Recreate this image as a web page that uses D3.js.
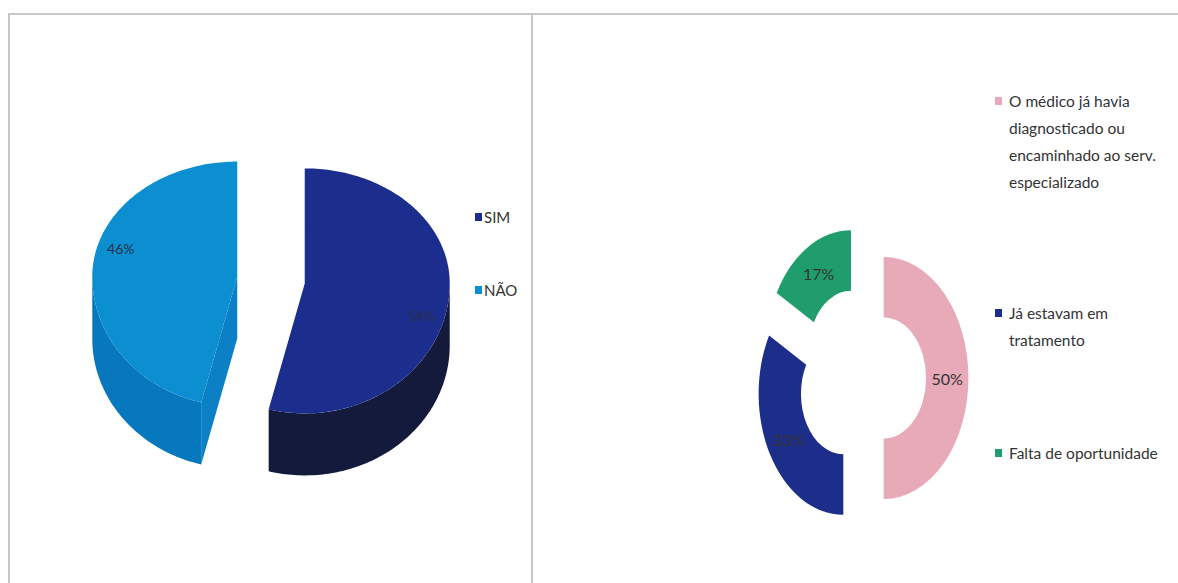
<!DOCTYPE html>
<html><head><meta charset="utf-8">
<script src="https://cdn.jsdelivr.net/npm/d3@7"></script>
<style>
html,body{margin:0;padding:0;background:#fff;}
svg{display:block;font-family:Lato,"Open Sans",sans-serif;}
</style>
</head><body>
<svg id="chart" width="1178" height="583"></svg>
<script>
// ---- data ----
const pieCategories = ["SIM", "NÃO"];
const pieValues = [54, 46];
const pieLabels = ["54%", "46%"];

const donutCategories = [
  ["O médico já havia", "diagnosticado ou", "encaminhado ao serv.", "especializado"],
  ["Já estavam em", "tratamento"],
  ["Falta de oportunidade"]
];
const donutValues = [50, 33, 17];
const donutLabels = ["50%", "33%", "17%"];

// ---- styles ----
const pieTopColors = ["#1b2d8d", "#0b8fd0"];
const pieSideColors = ["#131a3c", "#0878be"];
const pieCutColors = ["#15216a", "#0b80c5"];
const donutColors = ["#e8a9b9", "#1c2d8a", "#1f9d6c"];
const textColor = "#333333";

const svg = d3.select("#chart");

// panel frames
svg.append("path").attr("d", "M9,600V14H1200")
  .attr("fill", "none").attr("stroke", "#c8c8c8").attr("stroke-width", 2);
svg.append("line").attr("x1", 532).attr("x2", 532).attr("y1", 14).attr("y2", 600)
  .attr("stroke", "#c8c8c8").attr("stroke-width", 2);

// ---- left: exploded 3D pie (slight perspective: front half deeper) ----
const p3 = {cx: 271, cy: 280, rx: 145, ryBack: 115, ryFront: 130, depth: 62, explode: 34};
const pie3 = d3.pie().sort(null)(pieValues);
function pt(c, a, r, z) {
  const ca = Math.cos(a);
  const ry = ca > 0 ? p3.ryBack : p3.ryFront;
  return [c[0] + r * p3.rx * Math.sin(a), c[1] - r * ry * ca + z];
}
function arcPts(c, a0, a1, z) {
  const n = Math.max(2, Math.ceil(Math.abs(a1 - a0) / 0.02));
  return d3.range(n + 1).map(i => pt(c, a0 + (a1 - a0) * i / n, 1, z));
}
const line = d3.line();
pie3.forEach(d => {
  const m = (d.startAngle + d.endAngle) / 2;
  d.mid = m;
  d.center = [p3.cx + p3.explode * Math.sin(m), p3.cy - p3.explode * 0.8 * Math.cos(m)];
});
const g3 = svg.append("g");
// sides and cut faces
pie3.forEach((d, i) => {
  const c = d.center;
  if (Math.sin(d.startAngle) < -1e-6) {
    const a = d.startAngle;
    g3.append("path").attr("d", line([pt(c, a, 0, 0), pt(c, a, 1, 0), pt(c, a, 1, p3.depth), pt(c, a, 0, p3.depth)]) + "Z")
      .attr("fill", pieCutColors[i]);
  }
  if (Math.sin(d.endAngle) > 1e-6) {
    const a = d.endAngle;
    g3.append("path").attr("d", line([pt(c, a, 0, 0), pt(c, a, 1, 0), pt(c, a, 1, p3.depth), pt(c, a, 0, p3.depth)]) + "Z")
      .attr("fill", pieCutColors[i]);
  }
  const a0 = Math.max(d.startAngle, Math.PI / 2), a1 = Math.min(d.endAngle, 3 * Math.PI / 2);
  if (a1 > a0) {
    const pts = arcPts(c, a0, a1, 0).concat(arcPts(c, a1, a0, p3.depth));
    g3.append("path").attr("d", line(pts) + "Z").attr("fill", pieSideColors[i]);
  }
});
// tops
pie3.forEach((d, i) => {
  const c = d.center;
  const pts = [pt(c, 0, 0, 0)].concat(arcPts(c, d.startAngle, d.endAngle, 0));
  g3.append("path").attr("d", line(pts) + "Z").attr("fill", pieTopColors[i]);
});
// labels
pie3.forEach((d, i) => {
  const p = pt(d.center, d.mid + 0.17, 0.84, 0);
  svg.append("text").attr("x", p[0]).attr("y", p[1])
    .attr("text-anchor", "middle").attr("dominant-baseline", "central")
    .attr("font-size", 14).attr("fill", "#2a2f45").text(pieLabels[i]);
});
// legend
const legL = {x: 475, y0: 217, dy: 73};
pieCategories.forEach((name, i) => {
  const y = legL.y0 + i * legL.dy;
  svg.append("rect").attr("x", legL.x).attr("y", y - 4).attr("width", 7).attr("height", 8).attr("fill", pieTopColors[i]);
  svg.append("text").attr("x", legL.x + 9).attr("y", y).attr("dominant-baseline", "central")
    .attr("font-size", 15).attr("fill", textColor).text(name);
});

// ---- right: exploded donut ----
const dn = {cx: 862, cy: 378, R: 121, r: 60.5, explode: 31, sx: 0.70};
const pieD = d3.pie().sort(null)(donutValues);
const arcD = d3.arc().innerRadius(dn.r).outerRadius(dn.R);
const gD = svg.append("g").attr("transform", `translate(${dn.cx},${dn.cy}) scale(${dn.sx},1)`);
function off(d) {
  const m = (d.startAngle + d.endAngle) / 2;
  return [dn.explode * Math.sin(m), -dn.explode * Math.cos(m)];
}
gD.selectAll("path").data(pieD).join("path")
  .attr("transform", d => `translate(${off(d)[0]},${off(d)[1]})`)
  .attr("d", arcD).attr("fill", (d, i) => donutColors[i]);
pieD.forEach((d, i) => {
  const o = off(d), c = arcD.centroid(d);
  svg.append("text").attr("x", dn.cx + dn.sx * (o[0] + c[0])).attr("y", dn.cy + o[1] + c[1])
    .attr("text-anchor", "middle").attr("dominant-baseline", "central")
    .attr("font-size", 16).attr("fill", "#333").text(donutLabels[i]);
});
// legend
const legR = {x: 995, ys: [101, 313, 453], lh: 27};
donutCategories.forEach((lines, i) => {
  const y = legR.ys[i];
  svg.append("rect").attr("x", legR.x).attr("y", y - 4).attr("width", 7).attr("height", 8).attr("fill", donutColors[i]);
  lines.forEach((t, j) => {
    svg.append("text").attr("x", legR.x + 14).attr("y", y + j * legR.lh).attr("dominant-baseline", "central")
      .attr("font-size", 15.5).attr("fill", textColor).text(t);
  });
});
</script>
</body></html>
